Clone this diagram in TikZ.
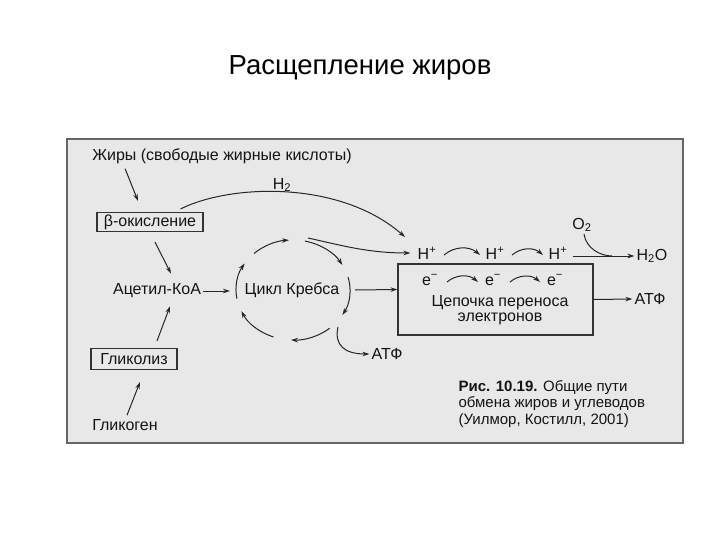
\documentclass[tikz,border=0pt]{standalone}
\usepackage{fontspec}
\setmainfont{Liberation Sans}
\usetikzlibrary{positioning,arrows.meta,calc}

\begin{document}
\begin{tikzpicture}[x=1pt, y=-1pt,
        txt/.style={font=\fontsize{16}{18}\selectfont, text=black!92, inner sep=2pt},
        stage/.style={txt, rectangle, draw=black!80, line width=1.1pt},
        chain/.style={rectangle, draw=black!80, line width=1.1pt, minimum width=195pt, minimum height=71pt},
        arrow/.style={-{Stealth[length=7pt,width=4.5pt]}, line width=1pt, draw=black!85},
        link/.style={line width=1pt, draw=black!85}
    ]
    \useasboundingbox (0,0) rectangle (720,540);

    % Title
    \node[font=\fontsize{27.5}{30}\selectfont] (title) at (360,68) {Расщепление жиров};

    % Frame
    \draw[draw=black!60, fill=black!9, line width=1.2pt] (67,139) rectangle (683,443);

    % Left column
    \node[txt] (fats) at (222,156) {Жиры (свободые жирные кислоты)};
    \node[stage, minimum width=106pt, minimum height=19pt] (beta) at (150,222) {β-окисление};
    \node[txt] (acetyl) at (157,291) {Ацетил-КоА};
    \node[stage, minimum width=86pt, minimum height=21pt] (glyc) at (134,359) {Гликолиз};
    \node[txt] (glycogen) at (125,425) {Гликоген};

    % Krebs cycle
    \coordinate (kc) at (293,290);
    \node[txt] (krebs) at (292,290) {Цикл Кребса};
    \foreach \s/\e in {227/266, 282/330, 345/390, 50/92, 110/155, 170/212} {
        \draw[arrow] ($(kc)+(\s:57 and 50)$) arc[start angle=\s, end angle=\e, x radius=57, y radius=50];
    }
    \node[txt] (atpk) at (387,354) {АТФ};

    % Electron transport chain
    \node[chain] (etc) at (495.5,299.5) {};
    \node[txt, align=center, font=\fontsize{16}{15.5}\selectfont] (etctext) at (500,310) {Цепочка переноса\\электронов};
    \foreach \i/\x in {1/427, 2/495, 3/558} {
        \node[txt] (h\i) at (\x,253) {H\textsuperscript{+}};
    }
    \foreach \i/\x in {1/430, 2/493, 3/555} {
        \node[txt] (e\i) at (\x,280) {e\textsuperscript{−}};
    }
    \node[txt] (h2lbl) at (282,185) {H\textsubscript{2}};
    \node[txt] (o2) at (582,225) {O\textsubscript{2}};
    \node[txt] (h2o) at (652,256) {H\textsubscript{2}O};
    \node[txt] (atpe) at (650,299) {АТФ};
    \coordinate (merge) at (612,256);

    % Arrows
    \draw[arrow] ($(fats.south west)+(35,3)$) -- ($(beta.north)+(-12,-11)$);
    \draw[arrow] ($(beta.south)+(5,10)$) -- ($(acetyl.north)+(14,-8)$);
    \draw[arrow] ($(glyc.north)+(23,-7)$) -- ($(acetyl.south)+(13,6)$);
    \draw[arrow] ($(glycogen.north)+(2,-2)$) -- ($(glyc.south)+(6,12)$);
    \draw[arrow] (acetyl.east) -- ($(kc)+(-63,1)$);
    \draw[arrow] ($(kc)+(62,0)$) -- ($(etc.west)+(0,-10)$);
    \draw[arrow] ($(beta.north east)+(-23,-3)$) .. controls +(50,-25) and +(-65,-57) .. ($(h1)+(-22,-16)$);
    \draw[arrow] ($(kc)+(15,-52)$) .. controls +(32,7) and +(-43,0) .. ($(h1.west)+(-5,0)$);
    \draw[arrow] ($(kc)+(45,37)$) .. controls +(-4,18) and +(-25,0) .. (atpk.west);
    \foreach \a/\b in {h1/h2, h2/h3, e1/e2, e2/e3} {
        \draw[arrow] ($(\a)+(17,2)$) to[bend left=40] ($(\b)+(-15,2)$);
    }
    \draw[arrow] ($(h3.east)+(3,3)$) -- (h2o.west);
    \draw[link] ($(o2.south)+(2,0)$) .. controls +(2,14) and +(-12,0) .. (merge);
    \draw[arrow] (etc.east) -- (atpe.west);

    % Caption
    \node[anchor=west, align=left, font=\fontsize{15}{16.5}\selectfont, text=black!92] (caption) at (455,404)
        {\textbf{Рис. 10.19.} Общие пути\\обмена жиров и углеводов\\(Уилмор, Костилл, 2001)};
\end{tikzpicture}
\end{document}
